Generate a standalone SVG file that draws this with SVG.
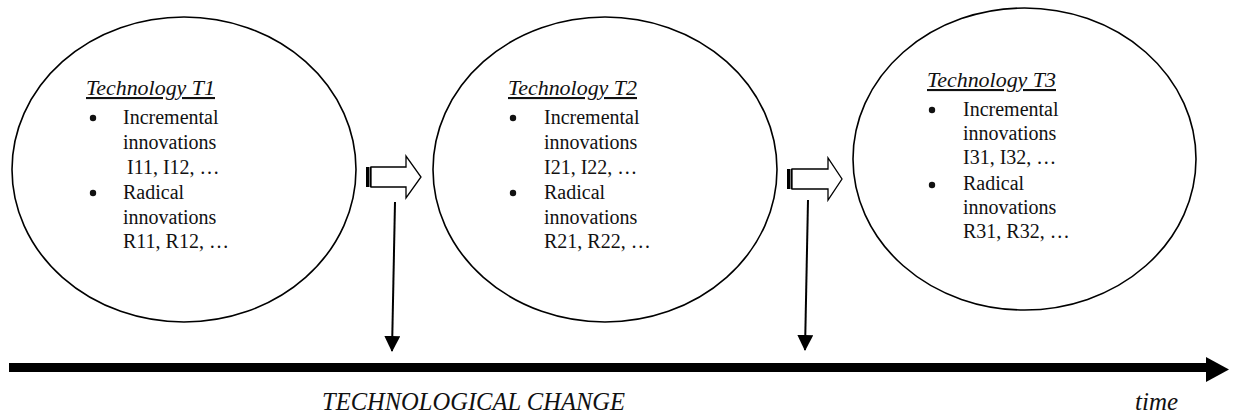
<svg xmlns="http://www.w3.org/2000/svg" width="1235" height="416" viewBox="0 0 1235 416">
<defs>
<style>
.ell{fill:#fff;stroke:#000;stroke-width:1.6}
text{font-family:'Liberation Serif','DejaVu Serif',serif;fill:#111}
.title{font-size:21px;font-style:italic;text-decoration:underline}
.body{font-size:20px}
.blk{fill:#fff;stroke:#000;stroke-width:1.3}
.big{font-size:25px;font-style:italic}
.vline{stroke:#000;stroke-width:2;fill:none}
</style>
<marker id="ah" markerWidth="16" markerHeight="16" viewBox="0 0 16 16" refX="15" refY="8" orient="auto" markerUnits="userSpaceOnUse">
<path d="M0,0 L16,8 L0,16 Z" fill="#000"/>
</marker>
</defs>
<g font-family="Liberation Serif, serif">
<g id="node-t1">
<ellipse class="ell" cx="184" cy="169.5" rx="172" ry="152.5"/>
<text class="title" x="86" y="95" textLength="129" lengthAdjust="spacingAndGlyphs">Technology T1</text>
<circle cx="93" cy="118" r="3.2" fill="#111"/>
<text class="body" x="123" y="124">Incremental</text>
<text class="body" x="123" y="149">innovations</text>
<text class="body" x="127" y="174">I11, I12, …</text>
<circle cx="93" cy="193" r="3.2" fill="#111"/>
<text class="body" x="123" y="199">Radical</text>
<text class="body" x="123" y="224">innovations</text>
<text class="body" x="123" y="248">R11, R12, …</text>
</g>
<g id="node-t2">
<ellipse class="ell" cx="605" cy="169.5" rx="172" ry="152.5"/>
<text class="title" x="508" y="95" textLength="129" lengthAdjust="spacingAndGlyphs">Technology T2</text>
<circle cx="513" cy="118" r="3.2" fill="#111"/>
<text class="body" x="544" y="124">Incremental</text>
<text class="body" x="544" y="149">innovations</text>
<text class="body" x="544" y="174">I21, I22, …</text>
<circle cx="513" cy="193" r="3.2" fill="#111"/>
<text class="body" x="544" y="199">Radical</text>
<text class="body" x="544" y="224">innovations</text>
<text class="body" x="544" y="248">R21, R22, …</text>
</g>
<g id="node-t3">
<ellipse class="ell" cx="1024.5" cy="159" rx="171.5" ry="151"/>
<text class="title" x="927" y="87" textLength="129" lengthAdjust="spacingAndGlyphs">Technology T3</text>
<circle cx="932" cy="110" r="3.2" fill="#111"/>
<text class="body" x="963" y="116">Incremental</text>
<text class="body" x="963" y="140">innovations</text>
<text class="body" x="963" y="164">I31, I32, …</text>
<circle cx="932" cy="185" r="3.2" fill="#111"/>
<text class="body" x="963" y="190">Radical</text>
<text class="body" x="963" y="214">innovations</text>
<text class="body" x="963" y="238">R31, R32, …</text>
</g>
<g id="connectors">
<g id="block-arrow-1">
<path class="blk" d="M371,167 L406,167 L406,156 L421,177 L406,198 L406,187 L371,187 Z"/>
<rect x="366" y="167" width="3" height="20" fill="#000"/>
<rect x="369.5" y="167" width="1.5" height="20" fill="#000"/>
</g>
<g id="block-arrow-2">
<path class="blk" d="M792,169 L828,169 L828,158 L842,179 L828,200 L828,189 L792,189 Z"/>
<rect x="787" y="169" width="3" height="20" fill="#000"/>
<rect x="790.5" y="169" width="1.5" height="20" fill="#000"/>
</g>
<line class="vline" x1="395" y1="202" x2="392" y2="351" marker-end="url(#ah)"/>
<line class="vline" x1="808" y1="200" x2="805" y2="350" marker-end="url(#ah)"/>
<g id="time-axis">
<rect x="9" y="363" width="1200" height="9" fill="#000"/>
<path d="M1206,357 L1229,369.5 L1206,382 Z" fill="#000"/>
</g>
</g>
<text class="big" x="322" y="410" textLength="303" lengthAdjust="spacingAndGlyphs">TECHNOLOGICAL CHANGE</text>
<text class="big" x="1135" y="410">time</text>
</g>
</svg>
